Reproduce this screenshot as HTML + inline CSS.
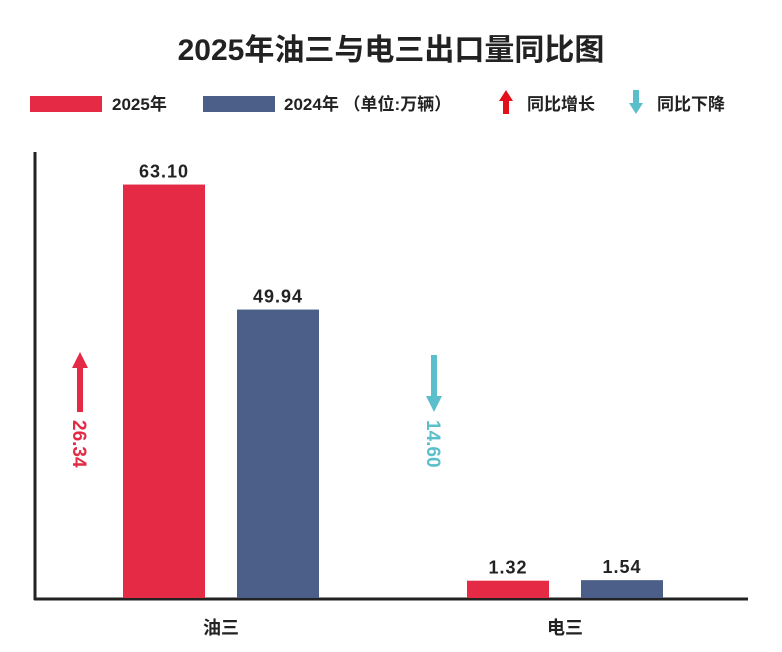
<!DOCTYPE html>
<html><head><meta charset="utf-8"><style>
body{margin:0;background:#fff;width:782px;height:647px;overflow:hidden;font-family:"Liberation Sans","Noto Sans CJK SC",sans-serif}
svg text{font-family:"Liberation Sans","Noto Sans CJK SC",sans-serif}
</style></head><body>
<svg id="chart" width="782" height="647">
<text x="391" y="60" text-anchor="middle" font-size="30" font-weight="bold" fill="#222">2025年油三与电三出口量同比图</text>
<g>
<rect x="30" y="96" width="72" height="16" fill="#e42a45"/>
<text x="112" y="110" font-size="17" font-weight="bold" fill="#222">2025年</text>
<rect x="203" y="96" width="72" height="16" fill="#4b5f89"/>
<text x="284" y="110" font-size="17" font-weight="bold" fill="#222">2024年 （单位:万辆）</text>
<path d="M506 90 L499 101 L503 101 L503 114 L509 114 L509 101 L513 101 Z" fill="#e3101c"/>
<text x="527" y="110" font-size="17" font-weight="bold" fill="#222">同比增长</text>
<path d="M636 114 L629 103 L633 103 L633 90 L639 90 L639 103 L643 103 Z" fill="#5bbfcb"/>
<text x="657" y="110" font-size="17" font-weight="bold" fill="#222">同比下降</text>
</g>
<line x1="35" y1="152" x2="35" y2="600" stroke="#222" stroke-width="3"/>
<line x1="34" y1="599" x2="748" y2="599" stroke="#222" stroke-width="3"/>
<g id="bars"></g>
<g>
<path d="M80 352 L72 368 L77 368 L77 412 L83 412 L83 368 L88 368 Z" fill="#e42a45"/>
<text transform="translate(73,420) rotate(90)" font-size="19" font-weight="bold" fill="#e42a45">26.34</text>
</g>
<g>
<path d="M434 412 L426 396 L431 396 L431 355 L437 355 L437 396 L442 396 Z" fill="#5bbfcb"/>
<text transform="translate(427,420) rotate(90)" font-size="19" font-weight="bold" fill="#5bbfcb">14.60</text>
</g>
</svg>
<script>
const categories=["油三","电三"];
const values2025=[63.10,1.32];
const values2024=[49.94,1.54];
const labels2025=["63.10","1.32"];
const labels2024=["49.94","1.54"];
const NS="http://www.w3.org/2000/svg";
const baseY=598;
function yScale(v){return baseY-Math.max(-186+9.5*v,14+2.5*v);}
const groupX=[123,467];
const g=document.getElementById('bars');
function mk(tag,attrs){const e=document.createElementNS(NS,tag);for(const k in attrs)e.setAttribute(k,attrs[k]);return e;}
categories.forEach((c,i)=>{
  [[values2025,labels2025,0,"#e42a45","2025"],[values2024,labels2024,114,"#4b5f89","2024"]].forEach(([vals,labs,off,col,yr])=>{
    const x=groupX[i]+off,y=yScale(vals[i]);
    const r=mk('rect',{x:x,y:y,width:82,height:baseY-y,fill:col});
    
    
    g.appendChild(r);
    const t=mk('text',{x:x+41,y:y-7,'text-anchor':'middle','font-size':18,'font-weight':'bold',fill:'#222','letter-spacing':'1'});
    t.textContent=labs[i];
    
    
    g.appendChild(t);
  });
  const t=mk('text',{x:groupX[i]+98,y:634,'text-anchor':'middle','font-size':18,'font-weight':'bold',fill:'#222'});
  t.textContent=c;
  
  
  g.appendChild(t);
});
</script>
</body></html>
